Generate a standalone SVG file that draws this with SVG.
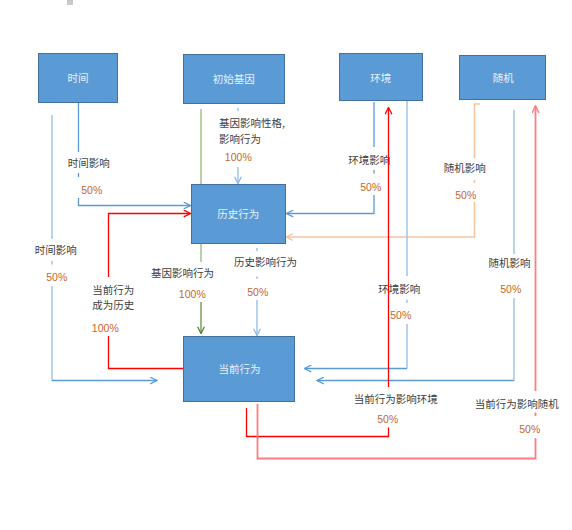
<svg xmlns="http://www.w3.org/2000/svg" width="572" height="530" viewBox="0 0 572 530">
<style>
.node rect{fill:#5B9BD5;stroke:#41719C;stroke-width:1}
.node text{fill:#E8EFF8;font-family:"Noto Sans CJK SC","Liberation Sans",sans-serif;font-size:10.5px;text-anchor:middle}
.ln{fill:none;stroke-width:1.3}
.lbl{fill:#404040;font-family:"Noto Sans CJK SC","Liberation Sans",sans-serif;font-size:10.5px}
.pct{fill:#C8652A;font-family:"Liberation Sans","Noto Sans CJK SC",sans-serif;font-size:10.5px;text-anchor:middle}
.m{text-anchor:middle}
.blue{stroke:#5B9BD5}
.lblue{stroke:#A5C8EB;stroke-width:1.6}
.green{stroke:#A9C690;stroke-width:1.6}
.dgreen{stroke:#7FA862;stroke-width:1.6}
.orange{stroke:#F8C4A0;stroke-width:1.6}
.red{stroke:#FF0000}
.lred{stroke:#FF7C80;stroke-width:1.8}
</style>
<defs>
<marker id="ab" viewBox="0 0 8 8" refX="7.4" refY="4" markerWidth="8" markerHeight="8" markerUnits="userSpaceOnUse" orient="auto"><path d="M0.6,0.6 L7.4,4 L0.6,7.4" fill="none" stroke="#5B9BD5" stroke-width="1.2"/></marker>
<marker id="alb" viewBox="0 0 8 8" refX="7.4" refY="4" markerWidth="8" markerHeight="8" markerUnits="userSpaceOnUse" orient="auto"><path d="M0.6,0.6 L7.4,4 L0.6,7.4" fill="none" stroke="#8DB8E6" stroke-width="1.3"/></marker>
<marker id="ag" viewBox="0 0 8 8" refX="7.4" refY="4" markerWidth="8" markerHeight="8" markerUnits="userSpaceOnUse" orient="auto"><path d="M0.6,0.6 L7.4,4 L0.6,7.4" fill="none" stroke="#548235" stroke-width="1.3"/></marker>
<marker id="ao" viewBox="0 0 8 8" refX="7.4" refY="4" markerWidth="8" markerHeight="8" markerUnits="userSpaceOnUse" orient="auto"><path d="M0.6,0.6 L7.4,4 L0.6,7.4" fill="none" stroke="#F8C4A0" stroke-width="1.3"/></marker>
<marker id="ar" viewBox="0 0 8 8" refX="7.4" refY="4" markerWidth="8" markerHeight="8" markerUnits="userSpaceOnUse" orient="auto"><path d="M0.6,0.6 L7.4,4 L0.6,7.4" fill="none" stroke="#FF0000" stroke-width="1.3"/></marker>
<marker id="alr" viewBox="0 0 8 8" refX="7.4" refY="4" markerWidth="8" markerHeight="8" markerUnits="userSpaceOnUse" orient="auto"><path d="M0.6,0.6 L7.4,4 L0.6,7.4" fill="none" stroke="#FF7C80" stroke-width="1.5"/></marker>
</defs>
<rect x="67" y="0" width="6" height="5" fill="#C8C8C8"/>
<g id="connectors">
<g id="c-time-hist">
<path class="ln blue" d="M78.5,102 V152 M78.5,173 V177 M78.5,198 V205.5 H190.5" marker-end="url(#ab)"/>
<text class="lbl m" x="88.8" y="167">时间影响</text>
<text class="pct" x="91.8" y="194">50%</text>
</g>
<g id="c-gene-hist">
<path class="ln lblue" d="M238,108 V111 M238,167 V183.5" marker-end="url(#alb)"/>
<text class="lbl" x="219" y="127">基因影响性格,</text>
<text class="lbl" x="219" y="143">影响行为</text>
<text class="pct" x="238.3" y="161">100%</text>
</g>
<g id="c-gene-cur">
<path class="ln green" d="M201,109 V262"/>
<path class="ln dgreen" d="M201,302 V333.5" marker-end="url(#ag)"/>
<text class="lbl m" x="182.5" y="276.5">基因影响行为</text>
<text class="pct" x="192.3" y="298">100%</text>
</g>
<g id="c-hist-cur">
<path class="ln lblue" d="M257,248 V251 M257,276.5 V279 M257,300 V335.5" marker-end="url(#alb)"/>
<text class="lbl m" x="265.5" y="266">历史影响行为</text>
<text class="pct" x="257.8" y="295.5">50%</text>
</g>
<g id="c-env-hist">
<path class="ln blue" d="M374,102 V147 M374,170 V173.5 M374,195 V213.5 H286.5" marker-end="url(#ab)"/>
<text class="lbl m" x="369.2" y="163.5">环境影响</text>
<text class="pct" x="370.8" y="190.5">50%</text>
</g>
<g id="c-rand-hist">
<path class="ln orange" d="M480,104 H474.5 V158 M474.5,180 V183 M474.5,202 V237 H286" marker-end="url(#ao)"/>
<text class="lbl m" x="464.8" y="172">随机影响</text>
<text class="pct" x="465.8" y="199">50%</text>
</g>
<g id="c-time-cur">
<path class="ln lblue" d="M52,115 V239 M52,261 V264.5 M52,286 V380.5"/>
<path class="ln blue" d="M52,380.5 H157" marker-end="url(#ab)"/>
<text class="lbl m" x="55.8" y="254">时间影响</text>
<text class="pct" x="56.8" y="281">50%</text>
</g>
<g id="c-env-cur">
<path class="ln lblue" d="M407,100 V276 M407,299.5 V303 M407,324 V368.5"/>
<path class="ln blue" d="M407,368.5 H304.5" marker-end="url(#ab)"/>
<text class="lbl m" x="399.2" y="292.5">环境影响</text>
<text class="pct" x="400.8" y="319">50%</text>
</g>
<g id="c-rand-cur">
<path class="ln lblue" d="M514,110 V254 M514,298 V380.5"/>
<path class="ln blue" d="M514,380.5 H317" marker-end="url(#ab)"/>
<text class="lbl m" x="509.5" y="266.5">随机影响</text>
<text class="pct" x="510.8" y="293">50%</text>
</g>
<g id="c-cur-hist">
<path class="ln red" d="M183,368.5 H108.5 V336 M108.5,277 V213.5 H190.5" marker-end="url(#ar)"/>
<text class="lbl" x="92.3" y="294">当前行为</text>
<text class="lbl" x="92.3" y="309">成为历史</text>
<text class="pct" x="105.3" y="331.5">100%</text>
</g>
<g id="c-cur-env">
<path class="ln red" d="M246.5,408 V436.5 H388.5 V427.5 M388.5,387 V107.5" marker-end="url(#ar)"/>
<text class="lbl m" x="395.8" y="403">当前行为影响环境</text>
<text class="pct" x="387.8" y="423">50%</text>
</g>
<g id="c-cur-rand">
<path class="ln lred" d="M257.5,404 V458.5 H535.5 V438 M535.5,416 V412.5 M535.5,391 V106" marker-end="url(#alr)"/>
<text class="lbl m" x="516.7" y="407.5">当前行为影响随机</text>
<text class="pct" x="529.8" y="433">50%</text>
</g>
</g>
<g id="n-time" class="node"><rect x="38.5" y="53.5" width="79" height="49"/><text x="78" y="81.5">时间</text></g>
<g id="n-gene" class="node"><rect x="183.5" y="54.5" width="101" height="49"/><text x="233.8" y="82.5">初始基因</text></g>
<g id="n-env" class="node"><rect x="339.5" y="53.5" width="83" height="47"/><text x="380.8" y="81.5">环境</text></g>
<g id="n-rand" class="node"><rect x="459.5" y="55.5" width="86" height="44"/><text x="503.3" y="81.5">随机</text></g>
<g id="n-hist" class="node"><rect x="191.5" y="184.5" width="94" height="59"/><text x="238.3" y="217.5">历史行为</text></g>
<g id="n-cur" class="node"><rect x="183.5" y="336.5" width="111" height="65"/><text x="239.5" y="372.5">当前行为</text></g>
</svg>
